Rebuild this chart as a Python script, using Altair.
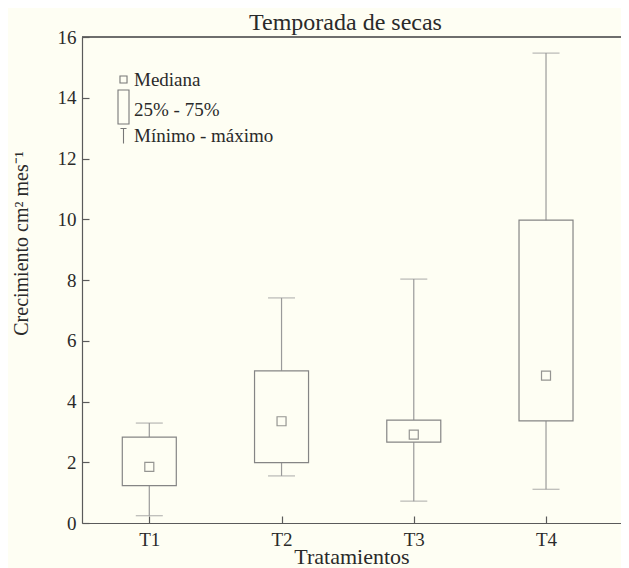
import altair as alt
import pandas as pd

# ---- data ----
tratamientos = ["T1", "T2", "T3", "T4"]
minimo = [0.24, 1.55, 0.72, 1.11]
q1 = [1.23, 1.99, 2.66, 3.36]
mediana = [1.85, 3.35, 2.91, 4.85]
q3 = [2.83, 5.01, 3.39, 9.97]
maximo = [3.29, 7.41, 8.03, 15.47]
y_ticks = [0, 2, 4, 6, 8, 10, 12, 14, 16]
leyenda = ["Mediana", "25% - 75%", "Mínimo - máximo"]

df = pd.DataFrame({"trat": tratamientos, "minimo": minimo, "q1": q1,
                   "mediana": mediana, "q3": q3, "maximo": maximo})
leg_df = pd.DataFrame({"item": leyenda})

FONT = "Liberation Serif"
BG = "#fefef3"
AXC = "#5a5a5a"
BOXC = "#858585"
WHC = "#9a9a9a"
TXT = "#2a2a2a"

xscale = alt.Scale(type="point", domain=tratamientos, padding=0.538, align=0.473)
yscale = alt.Scale(domain=[0, 16], nice=False, zero=True)

base = alt.Chart(df)

# whiskers (carry main axes: domain + labels + titles)
whisk = base.mark_rule(color=WHC, strokeWidth=1.2).encode(
    x=alt.X("trat:N", scale=xscale,
            axis=alt.Axis(orient="bottom", title="Tratamientos", ticks=False, tickSize=0,
                          labelPadding=7, labelFont=FONT, labelFontSize=19, labelColor=TXT,
                          labelAngle=0, domainColor=AXC, domainWidth=1.2, grid=False,
                          titleFont=FONT, titleFontSize=22, titleFontWeight="normal",
                          titleColor=TXT, titleY=40, titleBaseline="alphabetic")),
    y=alt.Y("minimo:Q", scale=yscale,
            axis=alt.Axis(orient="left", title="Crecimiento cm² mes⁻¹", values=y_ticks,
                          ticks=False, tickSize=0, labelPadding=6, labelFont=FONT,
                          labelFontSize=19, labelColor=TXT, domainColor=AXC, domainWidth=1.2,
                          grid=False, titleFont=FONT, titleFontSize=20,
                          titleFontWeight="normal", titleColor=TXT, titleAngle=270,
                          titleX=-55, titleY=206, titleAlign="center",
                          titleBaseline="alphabetic")),
    y2=alt.Y2("maximo:Q"),
)

# boxes
box = base.mark_bar(size=54, fill=BG, stroke=BOXC, strokeWidth=1.2).encode(
    x=alt.X("trat:N", scale=xscale, axis=None),
    y=alt.Y("q1:Q", scale=yscale, axis=None),
    y2=alt.Y2("q3:Q"),
)

# caps at maximum (carry inward ticks)
cap_max = base.mark_tick(orient="horizontal", size=27, thickness=1.2, color=WHC).encode(
    x=alt.X("trat:N", scale=xscale,
            axis=alt.Axis(orient="bottom", offset=-7, domain=False, labels=False,
                          ticks=True, tickSize=7, tickColor=AXC, tickWidth=1.2,
                          title=None, grid=False)),
    y=alt.Y("maximo:Q", scale=yscale,
            axis=alt.Axis(orient="left", offset=-7, domain=False, labels=False,
                          ticks=True, tickSize=7, tickColor=AXC, tickWidth=1.2,
                          values=y_ticks, title=None, grid=False)),
)

# caps at minimum (carry the chart title as a top axis title)
cap_min = base.mark_tick(orient="horizontal", size=27, thickness=1.2, color=WHC).encode(
    x=alt.X("trat:N", scale=xscale,
            axis=alt.Axis(orient="top", domain=False, labels=False, ticks=False,
                          grid=False, title="Temporada de secas", titleFont=FONT,
                          titleFontSize=24, titleFontWeight="normal", titleColor=TXT,
                          titleX=263, titleY=-8, titleAlign="center",
                          titleBaseline="alphabetic")),
    y=alt.Y("minimo:Q", scale=yscale, axis=None),
)

med = base.mark_square(filled=False, size=81, color="#6a6a6a", strokeWidth=1.2).encode(
    x=alt.X("trat:N", scale=xscale, axis=None),
    y=alt.Y("mediana:Q", scale=yscale, axis=None),
)

top = alt.Chart(leg_df).mark_rule(color=AXC, strokeWidth=1.2).encode(
    y=alt.YDatum(16, scale=yscale, axis=None),
)

legend_layer = alt.Chart(leg_df).mark_point(opacity=0, filled=False).encode(
    x=alt.value(0), y=alt.value(0),
    shape=alt.Shape("item:N",
                    scale=alt.Scale(domain=leyenda, range=[
                        "M-0.64,-0.64H0.64V0.64H-0.64Z",
                        "M-1,-3.64H1V2.54H-1Z",
                        "M-0.55,-1.36H0.55M0,-1.36V1.36",
                    ]),
                    legend=alt.Legend(title=None, orient="none", legendX=32, legendY=33,
                                      symbolSize=121, symbolStrokeColor="#777777",
                                      symbolFillColor="transparent", symbolStrokeWidth=1.1,
                                      symbolOpacity=1, labelFont=FONT, labelFontSize=19,
                                      labelColor=TXT, labelOffset=1, rowPadding=-2.5,
                                      padding=0)),
)

chart = alt.layer(whisk, box, cap_max, cap_min, med, top, legend_layer).resolve_axis(
    x="independent", y="independent"
).properties(
    width=539, height=486,
    autosize=alt.AutoSizeParams(type="none"),
    padding={"left": 74, "top": 29, "right": 0, "bottom": 45},
    background=BG,
).configure_view(strokeWidth=0)

chart.save("out.html", embed_options={"renderer": "svg", "actions": False})
